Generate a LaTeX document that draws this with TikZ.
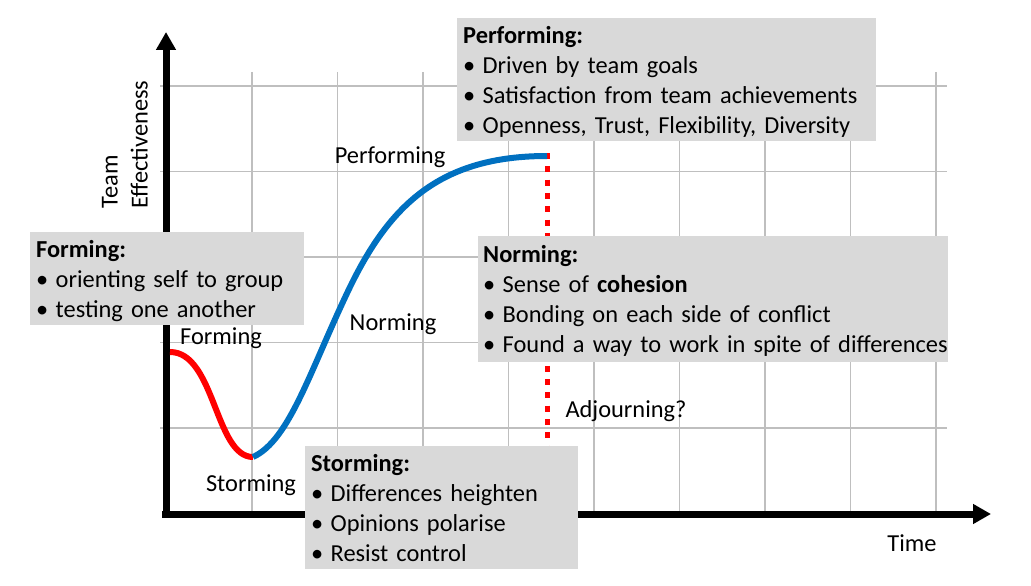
\documentclass[tikz,border=0pt]{standalone}
\usepackage{fontspec}
\setmainfont{Carlito}
\usetikzlibrary{arrows.meta}

\definecolor{boxgray}{HTML}{D9D9D9}
\definecolor{gridgray}{HTML}{BFBFBF}
\definecolor{curveblue}{HTML}{0070C0}
\definecolor{curvered}{HTML}{FF0000}

% heading and bullet lines of the grey boxes
\newcommand{\boxhead}[1]{\rule{0pt}{24pt}\textbf{#1}}
\newcommand{\bitem}[1]{\mbox{\makebox[19.5pt][l]{\textbullet}#1}}
\newcommand{\blast}[1]{\rule[-7pt]{0pt}{7pt}\bitem{#1}}

\begin{document}
\begin{tikzpicture}[x=1pt, y=-1pt,
  every node/.style={font=\fontsize{24.4}{30}\selectfont},
  gridline/.style={gridgray, line width=1.5pt},
  axisline/.style={line width=7pt, -{Triangle[length=18pt, width=19pt]}},
  infobox/.style={fill=boxgray, align=left, anchor=north west, inner xsep=6pt, inner ysep=1pt},
  stagelabel/.style={inner sep=0pt}]

  \useasboundingbox (0,0) rectangle (1031,586);

  % --- grid ---
  \foreach \i in {0,...,8}
    \draw[gridline] (252+85.5*\i, 72) -- (252+85.5*\i, 515);
  \foreach \j in {0,...,4}
    \draw[gridline] (160, 86+85.5*\j) -- (947, 86+85.5*\j);

  % --- axes ---
  \coordinate (origin) at (166, 514);
  \coordinate (ytop) at (166, 32);
  \coordinate (xend) at (991, 514);
  \draw[axisline] ([yshift=3.5pt]origin) -- (ytop);
  \draw[axisline] ([xshift=-4pt]origin) -- (xend);

  % --- adjourning line ---
  \coordinate (start) at (170, 352);
  \coordinate (trough) at (253, 457);
  \coordinate (peak) at (547, 156);
  \coordinate (dropend) at (547, 514);
  \draw[curvered, line width=5pt, dash pattern=on 6pt off 7.3pt] ([yshift=3pt]peak) -- (dropend);

  % --- team curve ---
  \draw[curvered, line width=6pt] (start) .. controls (215, 352) and (215, 457) .. (trough);
  \draw[curveblue, line width=6pt] (trough) .. controls (290, 440) and (310, 370) .. (350, 287)
    .. controls (390, 205) and (440, 156) .. (peak);

  % --- boxes ---
  \node[infobox, text width=407pt] (perfbox) at (457, 18) {%
    \boxhead{Performing:}\\
    \bitem{Driven by team goals}\\
    \bitem{Satisfaction from team achievements}\\
    \blast{Openness, Trust, Flexibility, Diversity}};

  \node[infobox, text width=460pt, inner xsep=5pt, inner ysep=2.5pt] (normbox) at (478, 236) {%
    \boxhead{Norming:}\\
    \bitem{Sense of \textbf{cohesion}}\\
    \bitem{Bonding on each side of conflict}\\
    \blast{Found a way to work in spite of differences}};

  \node[infobox, text width=262pt] (formbox) at (30, 232) {%
    \boxhead{Forming:}\\
    \bitem{orienting self to group}\\
    \blast{testing one another}};

  \node[infobox, text width=261pt] (stormbox) at (305, 446) {%
    \boxhead{Storming:}\\
    \bitem{Differences heighten}\\
    \bitem{Opinions polarise}\\
    \blast{Resist control}};

  % --- labels ---
  \node[stagelabel] (perflabel) at (390, 157) {Performing};
  \node[stagelabel] (normlabel) at (393, 324) {Norming};
  \node[stagelabel] (formlabel) at (221, 338) {Forming};
  \node[stagelabel] (stormlabel) at (251, 485) {Storming};
  \node[stagelabel] (adjlabel) at (626, 411) {Adjourning?};
  \node[stagelabel] (xlabel) at (912, 543) {Time};
  \node[stagelabel, rotate=90, align=left] (ylabel) at (125, 144.5) {Team\\Effectiveness};

\end{tikzpicture}
\end{document}
